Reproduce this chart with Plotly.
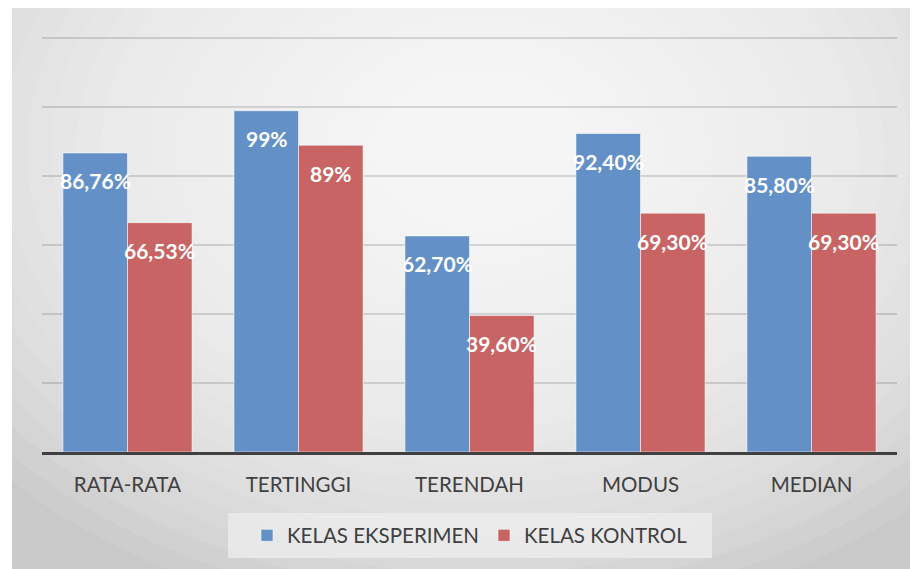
import plotly.graph_objects as go

categories = ["RATA-RATA", "TERTINGGI", "TERENDAH", "MODUS", "MEDIAN"]
eksperimen = [86.76, 99, 62.70, 92.40, 85.80]
kontrol = [66.53, 89, 39.60, 69.30, 69.30]
labels_eks = ["86,76%", "99%", "62,70%", "92,40%", "85,80%"]
labels_kon = ["66,53%", "89%", "39,60%", "69,30%", "69,30%"]
series_names = ["KELAS EKSPERIMEN", "KELAS KONTROL"]

# page body has an 8px margin: figure occupies (8,8)...
W, H = 910, 561
L, R, T, B = 34, 21, 29, 117
PW, PH = W - L - R, H - T - B

def px(x):
    return (x - L) / PW

def py(y):
    return (H - B - y) / PH

FONT = "Lato"
blue = "#6391c7"
red = "#c86463"

fig = go.Figure()
fig.add_trace(go.Bar(x=categories, y=eksperimen, name=series_names[0],
                     marker=dict(color=blue, line=dict(color="rgba(255,255,255,0.55)", width=1))))
fig.add_trace(go.Bar(x=categories, y=kontrol, name=series_names[1],
                     marker=dict(color=red, line=dict(color="rgba(255,255,255,0.55)", width=1))))

annotations = []
for cat, v, t in zip(categories, eksperimen, labels_eks):
    annotations.append(dict(x=cat, y=v, xref="x", yref="y", text=t, showarrow=False,
                            xshift=-32, yshift=-28, yanchor="middle",
                            font=dict(family=FONT, size=21, color="white", weight="bold")))
for cat, v, t in zip(categories, kontrol, labels_kon):
    annotations.append(dict(x=cat, y=v, xref="x", yref="y", text=t, showarrow=False,
                            xshift=32, yshift=-28, yanchor="middle",
                            font=dict(family=FONT, size=21, color="white", weight="bold")))

# background: gray panel with radial light gradient
shapes = [dict(type="rect", xref="paper", yref="paper", layer="below",
               x0=px(4), x1=px(W + 5), y0=py(0), y1=py(H + 5),
               fillcolor="#c9c9c9", line=dict(width=0))]
cx, cy = 472, 142
N = 26
for i in range(N):
    f = 1 - i / N
    rx, ry = 640 * f + 10, 470 * f + 8
    shapes.append(dict(type="circle", xref="paper", yref="paper", layer="below",
                       x0=px(cx - rx), x1=px(cx + rx), y0=py(cy + ry), y1=py(cy - ry),
                       fillcolor="rgba(255,255,255,0.085)", line=dict(width=0)))
# legend box
shapes.append(dict(type="rect", xref="paper", yref="paper", layer="below",
                   x0=px(220), x1=px(704), y0=py(505), y1=py(550),
                   fillcolor="rgba(238,238,238,0.75)", line=dict(width=0)))

fig.update_layout(
    width=W, height=H,
    margin=dict(l=L, r=R, t=T, b=B),
    paper_bgcolor="white",
    plot_bgcolor="rgba(0,0,0,0)",
    barmode="group", bargap=0.245, bargroupgap=0,
    font=dict(family=FONT, size=20.5, color="#404040"),
    showlegend=True,
    legend=dict(orientation="h", x=px(462), xanchor="center", y=py(527.5), yanchor="middle",
                bgcolor="rgba(0,0,0,0)", font=dict(family=FONT, size=20.5, color="#404040"),
                itemclick=False),
    annotations=annotations,
    shapes=shapes,
)
fig.update_xaxes(showline=True, linecolor="#404040", linewidth=3, ticks="",
                 tickfont=dict(family=FONT, size=20.5, color="#404040"),
                 ticklabelstandoff=12, showgrid=False)
fig.update_yaxes(range=[0, 120.4], tick0=0, dtick=20, showticklabels=False, zeroline=False,
                 showgrid=True, gridcolor="rgba(0,0,0,0.13)", gridwidth=2)

fig.write_html("out.html")
